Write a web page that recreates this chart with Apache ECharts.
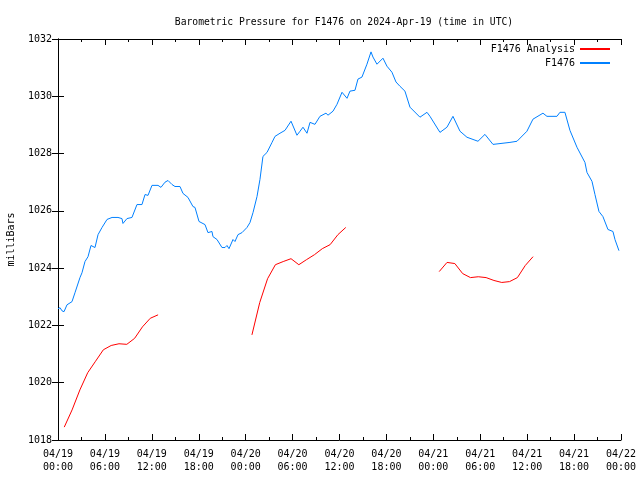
<!DOCTYPE html>
<html><head><meta charset="utf-8">
<script src="https://cdn.jsdelivr.net/npm/echarts@6/dist/echarts.min.js"></script>
<style>html,body{margin:0;padding:0;background:#fff}#c{width:640px;height:480px}</style>
</head><body><div id="c"></div>
<script>
// hours since 2024-04-19 00:00 UTC
const xTickLabels = ['04/19\n00:00','04/19\n06:00','04/19\n12:00','04/19\n18:00','04/20\n00:00','04/20\n06:00','04/20\n12:00','04/20\n18:00','04/21\n00:00','04/21\n06:00','04/21\n12:00','04/21\n18:00','04/22\n00:00'];

const obsHours = [0,0.26,0.51,0.77,1.15,1.79,2.17,2.81,3.07,3.45,3.84,4.22,4.73,5.12,5.63,6.27,6.91,7.67,8.18,8.31,8.82,9.46,10.10,10.74,11.13,11.51,12.02,12.79,13.17,13.68,14.07,14.58,14.96,15.60,15.98,16.62,17.26,17.52,17.77,18.03,18.80,19.18,19.69,19.82,20.33,20.97,21.36,21.61,21.87,22.38,22.63,23.02,23.53,24.17,24.55,24.94,25.45,25.83,26.21,26.73,27.37,27.75,28.39,29.03,29.80,30.56,30.95,31.33,31.84,32.23,32.86,33.50,34.27,34.53,35.17,35.68,36.32,36.96,37.34,37.98,38.36,38.87,39.51,40.03,40.28,40.79,41.56,42.07,42.71,43.22,43.73,44.37,45.01,46.29,47.19,47.57,48.85,49.74,50.51,51.41,52.30,53.71,54.60,55.63,57.80,58.70,59.97,60.74,62.02,62.53,63.81,64.19,64.83,65.47,66.37,67.39,67.65,68.29,68.67,69.18,69.69,70.33,70.97,71.23,71.74];
const obsValues = [1022.58,1022.62,1022.51,1022.48,1022.72,1022.83,1023.14,1023.67,1023.84,1024.23,1024.40,1024.79,1024.72,1025.17,1025.42,1025.70,1025.77,1025.77,1025.73,1025.56,1025.73,1025.77,1026.22,1026.22,1026.57,1026.54,1026.89,1026.89,1026.82,1027.00,1027.06,1026.92,1026.85,1026.85,1026.61,1026.47,1026.15,1026.12,1026.12,1025.63,1025.52,1025.24,1025.28,1025.10,1025.00,1024.72,1024.72,1024.79,1024.68,1025.00,1024.93,1025.17,1025.24,1025.42,1025.59,1025.94,1026.50,1027.10,1027.90,1028.04,1028.39,1028.60,1028.71,1028.81,1029.13,1028.64,1028.78,1028.92,1028.71,1029.09,1029.02,1029.30,1029.41,1029.34,1029.48,1029.72,1030.14,1029.93,1030.18,1030.21,1030.60,1030.67,1031.12,1031.55,1031.37,1031.12,1031.33,1031.05,1030.84,1030.50,1030.35,1030.18,1029.62,1029.27,1029.44,1029.30,1028.74,1028.92,1029.30,1028.78,1028.57,1028.43,1028.67,1028.32,1028.39,1028.43,1028.78,1029.20,1029.41,1029.30,1029.30,1029.44,1029.44,1028.81,1028.22,1027.69,1027.34,1027.03,1026.57,1025.98,1025.80,1025.35,1025.28,1025.00,1024.61];

const anaHours1 = [0.8,1.8,2.8,3.8,4.8,5.8,6.8,7.8,8.8,9.8,10.8,11.8,12.8];
const anaValues1 = [1018.45,1019.05,1019.75,1020.35,1020.75,1021.15,1021.30,1021.36,1021.34,1021.55,1021.95,1022.25,1022.37];
const anaHours2 = [24.8,25.8,26.8,27.8,28.8,29.8,30.8,31.8,32.8,33.8,34.8,35.8,36.8];
const anaValues2 = [1021.67,1022.80,1023.63,1024.12,1024.23,1024.33,1024.12,1024.30,1024.47,1024.68,1024.82,1025.17,1025.42];
const anaHours3 = [48.75,49.75,50.75,51.75,52.75,53.75,54.75,55.75,56.75,57.75,58.75,59.75,60.75];
const anaValues3 = [1023.88,1024.20,1024.16,1023.81,1023.67,1023.70,1023.67,1023.57,1023.50,1023.53,1023.67,1024.09,1024.40];

const zip = (a,b) => a.map((v,i)=>[v,b[i]]);
const anaData = [].concat(zip(anaHours1,anaValues1),[[null,null]],zip(anaHours2,anaValues2),[[null,null]],zip(anaHours3,anaValues3));

const FONT = 'DejaVu Sans Mono';
const chart = echarts.init(document.getElementById('c'), null, {renderer:'canvas'});
const axisCommon = {
  axisLine:{show:true,lineStyle:{color:'#000',width:1}},
  splitLine:{show:false},
};
chart.setOption({
  animation:false,
  backgroundColor:'#fff',
  textStyle:{fontFamily:FONT},
  title:{text:'Barometric Pressure for F1476 on 2024-Apr-19 (time in UTC)',left:339,textAlign:'center',top:12,
    textStyle:{fontFamily:FONT,fontSize:9.7,fontWeight:'normal',color:'#000'}},
  legend:{orient:'vertical',right:24,top:39,align:'right',itemWidth:30,itemHeight:2,itemGap:4,
    textStyle:{fontFamily:FONT,fontSize:10,color:'#000'},
    data:['F1476 Analysis','F1476']},
  grid:{left:58,right:19,top:39,bottom:40,outerBoundsMode:'none',containLabel:false},
  xAxis:[
    Object.assign({type:'value',min:0,max:72,interval:6,position:'bottom',
      axisTick:{show:true,inside:true,length:6,lineStyle:{color:'#000'}},
      minorTick:{show:true,splitNumber:2,length:3,lineStyle:{color:'#000'}},
      axisLabel:{fontFamily:FONT,fontSize:10,color:'#000',margin:8,lineHeight:13,
        formatter:v=>xTickLabels[Math.round(v/6)]}},axisCommon),
    Object.assign({type:'value',min:0,max:72,interval:6,position:'top',
      axisTick:{show:true,inside:true,length:6,lineStyle:{color:'#000'}},
      minorTick:{show:true,splitNumber:2,length:3,lineStyle:{color:'#000'}},
      axisLabel:{show:false}},axisCommon)
  ],
  yAxis:[
    Object.assign({type:'value',min:1018,max:1032,interval:2,position:'left',
      name:'milliBars',nameLocation:'middle',nameGap:42,nameRotate:90,
      nameTextStyle:{fontFamily:FONT,fontSize:10,color:'#000'},
      axisTick:{show:true,inside:true,length:6,lineStyle:{color:'#000'}},
      axisLabel:{fontFamily:FONT,fontSize:10,color:'#000',margin:6,formatter:v=>String(v)}},axisCommon),
    Object.assign({type:'value',min:1018,max:1032,interval:2,position:'right',
      axisTick:{show:true,inside:true,length:6,lineStyle:{color:'#000'}},
      axisLabel:{show:false}},axisCommon)
  ],
  series:[
    {name:'F1476 Analysis',type:'line',data:anaData,showSymbol:false,symbol:'none',connectNulls:false,
      lineStyle:{color:'#ff0000',width:1},itemStyle:{color:'#ff0000'}},
    {name:'F1476',type:'line',data:zip(obsHours,obsValues),showSymbol:false,symbol:'none',
      lineStyle:{color:'#0080ff',width:1},itemStyle:{color:'#0080ff'}}
  ]
});
</script></body></html>
